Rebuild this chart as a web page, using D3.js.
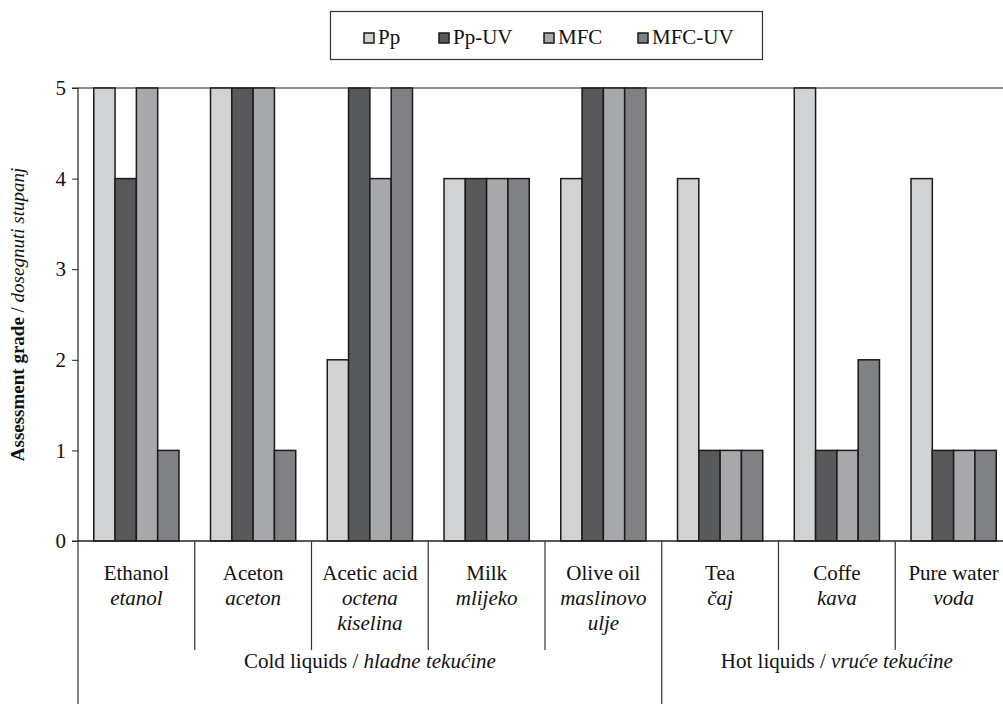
<!DOCTYPE html>
<html>
<head>
<meta charset="utf-8">
<script src="https://cdn.jsdelivr.net/npm/d3@7"></script>
<style>
  body { margin: 0; background: #fff; }
  text { font-family: "Liberation Serif", "Times New Roman", serif; fill: #111; }
</style>
</head>
<body>
<svg id="chart" width="1003" height="704"></svg>
<script>
// data
var categories = ['Ethanol', 'Aceton', 'Acetic acid', 'Milk', 'Olive oil', 'Tea', 'Coffe', 'Pure water'];
var subLabels = [['etanol'], ['aceton'], ['octena', 'kiselina'], ['mlijeko'], ['maslinovo', 'ulje'], ['čaj'], ['kava'], ['voda']];
var seriesNames = ['Pp', 'Pp-UV', 'MFC', 'MFC-UV'];
var pp    = [5, 5, 2, 4, 4, 4, 5, 4];
var ppUV  = [4, 5, 5, 4, 5, 1, 1, 1];
var mfc   = [5, 5, 4, 4, 5, 1, 1, 1];
var mfcUV = [1, 1, 5, 4, 5, 1, 2, 1];
var groups = [{name: 'Cold liquids', it: 'hladne tekućine', n: 5}, {name: 'Hot liquids', it: 'vruće tekućine', n: 3}];
var yTicks = [0, 1, 2, 3, 4, 5];

var colors = ['#d1d2d4', '#58595b', '#a7a8ab', '#808184'];
var series = [pp, ppUV, mfc, mfcUV];

var svg = d3.select('#chart');
var mLeft = 78, mRight = 1012, mTop = 88, mBottom = 541;
var fs = '21px';

var x = d3.scaleBand().domain(categories).range([mLeft, mRight]).padding(0);
var xs = d3.scaleBand().domain(seriesNames).range([0, x.bandwidth()]).paddingInner(0).paddingOuter(0.74);
var y = d3.scaleLinear().domain([0, 5]).range([mBottom, mTop]);

// top gridline
svg.append('line').attr('x1', mLeft).attr('x2', mRight).attr('y1', y(5)).attr('y2', y(5))
  .attr('stroke', '#222').attr('stroke-width', 1.2);

// bars
var g = svg.append('g');
categories.forEach(function(c, i) {
  series.forEach(function(s, j) {
    g.append('rect')
      .attr('x', x(c) + xs(seriesNames[j]))
      .attr('y', y(s[i]))
      .attr('width', xs.bandwidth())
      .attr('height', y(0) - y(s[i]))
      .attr('fill', colors[j])
      .attr('stroke', '#1a1a1a')
      .attr('stroke-width', 1.5);
  });
});

// y axis
var yAxis = d3.axisLeft(y).tickValues(yTicks).tickSize(6).tickPadding(6).tickFormat(d3.format('d'));
var ya = svg.append('g').attr('transform', 'translate(' + mLeft + ',0)').call(yAxis);
ya.select('.domain').attr('stroke', '#222').attr('stroke-width', 1.2).attr('d', 'M-6,' + mTop + 'H0V' + mBottom + 'H-6');
ya.selectAll('.tick line').attr('stroke', '#222');
ya.selectAll('.tick text').style('font-size', fs).style('font-family', '"Liberation Serif", serif').attr('fill', '#222');

// x baseline
svg.append('line').attr('x1', mLeft).attr('x2', mRight).attr('y1', mBottom).attr('y2', mBottom)
  .attr('stroke', '#222').attr('stroke-width', 1.5);

// category separators
categories.forEach(function(c, i) {
  if (i === 0) return;
  var xx = x(c);
  var long = (i === groups[0].n);
  svg.append('line').attr('x1', xx).attr('x2', xx).attr('y1', mBottom).attr('y2', long ? 704 : 650)
    .attr('stroke', '#333').attr('stroke-width', 1.2);
});
svg.append('line').attr('x1', mLeft).attr('x2', mLeft).attr('y1', mBottom).attr('y2', 704)
  .attr('stroke', '#333').attr('stroke-width', 1.2);
svg.append('line').attr('x1', mRight).attr('x2', mRight).attr('y1', mBottom).attr('y2', 704)
  .attr('stroke', '#333').attr('stroke-width', 1.2);

// category labels
categories.forEach(function(c, i) {
  var cx = x(c) + x.bandwidth() / 2;
  svg.append('text').attr('x', cx).attr('y', 580).attr('text-anchor', 'middle')
    .style('font-size', fs).text(c);
  subLabels[i].forEach(function(s, k) {
    svg.append('text').attr('x', cx).attr('y', 605 + k * 25).attr('text-anchor', 'middle')
      .style('font-size', fs).style('font-style', 'italic').text(s);
  });
});

// group labels
var start = 0;
groups.forEach(function(gr) {
  var x0 = x(categories[start]);
  var x1 = x(categories[start + gr.n - 1]) + x.bandwidth();
  var t = svg.append('text').attr('x', (x0 + x1) / 2).attr('y', 668).attr('text-anchor', 'middle')
    .style('font-size', fs);
  t.append('tspan').text(gr.name + ' / ');
  t.append('tspan').style('font-style', 'italic').text(gr.it);
  start += gr.n;
});

// y label
var yl = svg.append('text').attr('transform', 'translate(24,' + ((mTop + mBottom) / 2) + ') rotate(-90)')
  .attr('text-anchor', 'middle').style('font-size', '19px');
yl.append('tspan').style('font-weight', 'bold').text('Assessment grade');
yl.append('tspan').text(' / ');
yl.append('tspan').style('font-style', 'italic').text('dosegnuti stupanj');

// legend
svg.append('rect').attr('x', 330.5).attr('y', 11.5).attr('width', 432).attr('height', 48)
  .attr('fill', '#fff').attr('stroke', '#333').attr('stroke-width', 1.2);
var legX = [364, 439, 544, 638];
seriesNames.forEach(function(n, j) {
  svg.append('rect').attr('x', legX[j]).attr('y', 33).attr('width', 10).attr('height', 10)
    .attr('fill', colors[j]).attr('stroke', '#1a1a1a').attr('stroke-width', 1.5);
  svg.append('text').attr('x', legX[j] + 14).attr('y', 44).style('font-size', fs).text(n);
});
</script>
</body>
</html>
